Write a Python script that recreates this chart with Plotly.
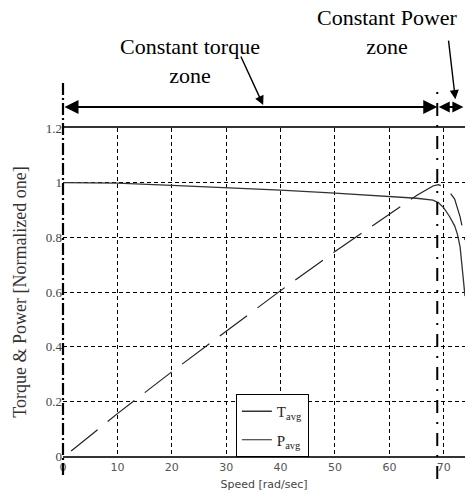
import plotly.graph_objects as go

# ---- data ----
speed_t = [0, 5, 10, 20, 30, 40, 50, 60, 65, 68, 69, 70, 71, 72, 72.5, 73, 73.5, 73.9]
torque = [1.0, 1.0, 0.998, 0.99, 0.982, 0.973, 0.962, 0.95, 0.943, 0.936, 0.927, 0.908,
          0.878, 0.842, 0.812, 0.765, 0.668, 0.585]

speed_p = [1.5, 10, 20, 30, 40, 50, 60, 65, 68, 69, 70, 71, 72, 73, 73.9]
power = [0.018, 0.155, 0.308, 0.455, 0.605, 0.748, 0.886, 0.953, 0.988, 0.993, 0.985,
         0.967, 0.94, 0.875, 0.79]

x_ticks = [0, 10, 20, 30, 40, 50, 60, 70]
y_ticks = [0, 0.2, 0.4, 0.6, 0.8, 1.0, 1.2]
y_tick_text = ["0", "0.2", "0.4", "0.6", "0.8", "1", "1.2"]

x_max = 73.9
base_speed = 68.8  # boundary between zones

fig = go.Figure()
fig.add_trace(go.Scatter(x=speed_t, y=torque, mode="lines", name="T<sub>avg</sub>",
                         line=dict(color="#333333", width=1.3), legendgroup="a"))
fig.add_trace(go.Scatter(x=speed_p, y=power, mode="lines", name="P<sub>avg</sub>",
                         line=dict(color="#222222", width=1.2, dash="34px,13px"), legendgroup="b"))

serif = "Liberation Serif"
sans = "DejaVu Sans"

fig.update_layout(
    width=465, height=494,
    margin=dict(l=63, r=0, t=128, b=38),
    paper_bgcolor="white", plot_bgcolor="white",
    showlegend=True,
    legend=dict(x=0.43, y=0.189, xanchor="left", yanchor="top",
                bgcolor="white", bordercolor="black", borderwidth=1,
                font=dict(family=serif, size=15, color="#222"),
                traceorder="grouped", tracegroupgap=6, itemwidth=30),
    xaxis=dict(range=[0, x_max], tickvals=x_ticks, showgrid=True,
               gridcolor="black", gridwidth=1, griddash="4px,3px",
               zeroline=False, showline=True, linecolor="#333", linewidth=1.6,
               mirror=True, ticks="",
               tickfont=dict(family=sans, size=11, color="#555"),
               title=dict(text="Speed [rad/sec]", font=dict(family=sans, size=11, color="#444"),
                          standoff=7)),
    yaxis=dict(range=[0, 1.2], tickvals=y_ticks, ticktext=y_tick_text, showgrid=True,
               gridcolor="black", gridwidth=1, griddash="4px,3px",
               zeroline=False, showline=False, ticks="",
               tickfont=dict(family=serif, size=13, color="#444"),
               title=dict(text="Torque & Power [Normalized one]",
                          font=dict(family=serif, size=18, color="#333"), standoff=14)),
)

# left axis (dash-dot thick) and zone boundary line
fig.add_shape(type="line", xref="paper", yref="paper", x0=0, x1=0, y0=-0.058, y1=1.137,
              line=dict(color="black", width=2.2, dash="12px,3px,2px,3px"))
fig.add_shape(type="line", xref="paper", yref="paper",
              x0=base_speed / x_max, x1=base_speed / x_max, y0=-0.07, y1=1.137,
              line=dict(color="black", width=2, dash="13px,9px,2px,9px"))

# double arrows for zones
arrow_y = 1.064
fig.add_annotation(x=base_speed, y=arrow_y, xref="x", yref="paper",
                   ax=0, ay=0, axref="x", ayref="pixel", text="", showarrow=True,
                   arrowside="end+start", arrowhead=2, startarrowhead=2,
                   arrowsize=1.4, startarrowsize=1.4, arrowwidth=2, arrowcolor="black")
fig.add_annotation(x=73.6, y=arrow_y, xref="x", yref="paper",
                   ax=base_speed, ay=0, axref="x", ayref="pixel", text="", showarrow=True,
                   arrowside="end+start", arrowhead=2, startarrowhead=2,
                   arrowsize=1.1, startarrowsize=1.1, arrowwidth=2, arrowcolor="black")

# zone labels with pointer arrows
fig.add_annotation(x=0.316, y=1.203, xref="paper", yref="paper", showarrow=False,
                   xanchor="center", yanchor="middle",
                   text="Constant torque<br>zone", font=dict(family=serif, size=22, color="black"))
fig.add_annotation(x=0.808, y=1.293, xref="paper", yref="paper", showarrow=False,
                   xanchor="center", yanchor="middle",
                   text="Constant Power<br>zone", font=dict(family=serif, size=22, color="black"))
fig.add_annotation(x=36.8, y=1.070, xref="x", yref="paper", ax=-23, ay=-50,
                   text="", showarrow=True, arrowhead=2, arrowsize=1.3, arrowwidth=1.4,
                   arrowcolor="black")
fig.add_annotation(x=0.976, y=1.088, xref="paper", yref="paper", ax=-7, ay=-60,
                   text="", showarrow=True, arrowhead=2, arrowsize=1.3, arrowwidth=1.4,
                   arrowcolor="black")

fig.write_html("out.html")
